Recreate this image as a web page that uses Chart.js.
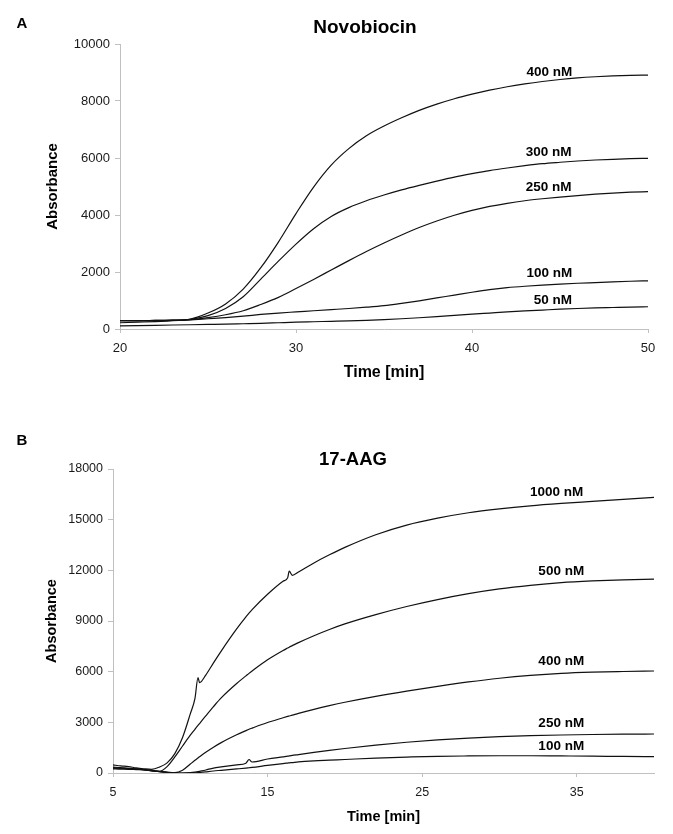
<!DOCTYPE html>
<html>
<head>
<meta charset="utf-8">
<title>Novobiocin / 17-AAG</title>
<script src="https://cdn.jsdelivr.net/npm/chart.js"></script>
<style>
  body { margin: 0; background: #fff; }
  .panel { position: absolute; left: 0; width: 673px; }
  #panelA { top: 0; height: 400px; }
  #panelB { top: 400px; height: 434px; }
</style>
</head>
<body>
<div class="panel" id="panelA"><canvas id="chartA"></canvas></div>
<div class="panel" id="panelB"><canvas id="chartB"></canvas></div>
<script>
// ---- panel A: Novobiocin ----
let timeA = [20, 21, 22, 23, 24, 25, 26, 27, 28, 29, 30, 31, 32, 33, 34, 35,
    36, 37, 38, 39, 40, 41, 42, 43, 44, 45, 46, 47, 48, 49, 50];
let nov400 = [290, 290, 300, 310, 350, 560, 880, 1400, 2150, 3050, 4050, 4980, 5750, 6330, 6780, 7120,
    7410, 7670, 7890, 8080, 8240, 8380, 8500, 8600, 8685, 8755, 8810, 8850, 8880, 8900, 8910];
let nov300 = [290, 290, 300, 310, 340, 470, 720, 1130, 1750, 2380, 2980, 3520, 3950, 4260, 4500, 4700,
    4880, 5040, 5190, 5330, 5450, 5560, 5650, 5730, 5800, 5850, 5895, 5930, 5955, 5975, 5990];
let nov250 = [290, 290, 290, 300, 330, 400, 500, 640, 860, 1110, 1420, 1740, 2070, 2400, 2720, 3020,
    3300, 3560, 3790, 3990, 4160, 4300, 4410, 4500, 4570, 4630, 4680, 4730, 4770, 4800, 4820];
let nov100 = [220, 240, 260, 290, 320, 360, 400, 450, 510, 560, 600, 640, 680, 720, 765, 820,
    900, 990, 1090, 1190, 1290, 1380, 1450, 1500, 1540, 1575, 1605, 1630, 1655, 1675, 1690];
let nov50 = [110, 120, 130, 140, 150, 160, 170, 185, 200, 220, 240, 255, 270, 285, 305, 330,
    360, 395, 435, 478, 520, 560, 600, 635, 665, 695, 720, 740, 755, 770, 780];
let namesA = ["400 nM", "300 nM", "250 nM", "100 nM", "50 nM"];
let nameTimeA = [44.4, 44.35, 44.35, 44.4, 44.6];
let nameValueA = [9010, 6190, 4990, 1950, 1020];

// ---- panel B: 17-AAG ----
let timeB = [5, 5.5, 6, 6.5, 7, 7.5, 8, 8.5, 9, 9.5, 10, 10.3, 10.5, 10.6, 11, 11.5, 12, 13,
    13.6, 13.8, 14, 15, 16, 16.3, 16.4, 16.6, 17, 18, 19, 20, 22, 24, 26, 28, 30, 32, 34, 36, 38, 40];
let aag1000 = [480, 420, 380, 300, 250, 220, 350, 600, 1150, 2100, 3500, 4400, 5650, 5350, 5800, 6520, 7220, 8530,
    9240, 9460, 9670, 10580, 11350, 11560, 11950, 11700, 11900, 12440, 12920, 13360, 14110, 14680, 15090, 15410,
    15640, 15820, 15960, 16080, 16200, 16320];
let aag500 = [350, 320, 280, 250, 200, 130, 100, 380, 950, 1600, 2240, 2590, 2820, 2930, 3380, 3930, 4450, 5300,
    5750, 5900, 6040, 6700, 7250, 7400, 7450, 7540, 7720, 8130, 8500, 8830, 9380, 9860, 10270, 10620,
    10900, 11110, 11270, 11370, 11440, 11480];
let aag400 = [300, 280, 260, 230, 200, 150, 80, 30, 20, 160, 530, 750, 890, 960, 1230, 1530, 1800, 2260,
    2510, 2590, 2660, 2990, 3270, 3350, 3375, 3425, 3530, 3770, 3990, 4190, 4540, 4850, 5130, 5390,
    5610, 5780, 5900, 5970, 6010, 6040];
let aag250 = [300, 280, 250, 230, 200, 150, 100, 50, 10, 0, 20, 50, 80, 100, 180, 290, 360, 480,
    580, 800, 650, 830, 960, 1000, 1010, 1040, 1090, 1220, 1340, 1450, 1650, 1820, 1960, 2070,
    2150, 2210, 2250, 2280, 2300, 2310];
let aag100 = [250, 230, 220, 200, 180, 130, 80, 40, 10, 0, 0, 10, 20, 30, 70, 120, 160, 240,
    290, 310, 330, 450, 560, 590, 600, 620, 660, 720, 760, 800, 880, 940, 990, 1010,
    1020, 1020, 1010, 1000, 980, 970];
let tickTimesB = [5, 15, 25, 35];
let namesB = ["1000 nM", "500 nM", "400 nM", "250 nM", "100 nM"];
let nameTimeB = [33.7, 34.0, 34.0, 34.0, 34.0];
let nameValueB = [16620, 11920, 6630, 2940, 1560];

const family = "'Liberation Sans', Arial, Helvetica, sans-serif";
Chart.defaults.font.family = family;

// panel letter, title and the "nM" labels next to the curves
const panelText = {
    id: "panelText",
    afterDatasetsDraw(chart, args, opts) {
        const ctx = chart.ctx;
        const xs = chart.scales.x, ys = chart.scales.y;
        ctx.save();
        ctx.fillStyle = "#000";
        ctx.textAlign = "center";
        ctx.textBaseline = "middle";
        ctx.font = "bold 15px " + family;
        ctx.fillText(opts.letter, opts.letterX, opts.letterY);
        ctx.font = "bold " + opts.titleSize + "px " + family;
        ctx.fillText(opts.title, opts.titleX, opts.titleY);
        ctx.font = "bold 13.5px " + family;
        for (let i = 0; i < opts.names.length; i++) {
            ctx.fillText(opts.names[i], xs.getPixelForValue(opts.nameTimes[i]), ys.getPixelForValue(opts.nameValues[i]));
        }
        ctx.restore();
    }
};

function lines(times, series) {
    return series.map(vals => ({
        data: vals.map((v, i) => ({ x: times[i], y: v })),
        borderColor: "#111",
        borderWidth: 1.2,
        pointRadius: 0,
        fill: false,
        cubicInterpolationMode: "monotone"
    }));
}

function axisGrid(len) {
    return { display: true, drawOnChartArea: false, drawTicks: true, tickLength: len, color: "#c0c0c0" };
}

// plain numbers, no thousands separator
const plain = v => String(v);

new Chart("chartA", {
    type: "line",
    data: { datasets: lines(timeA, [nov400, nov300, nov250, nov100, nov50]) },
    plugins: [panelText],
    options: {
        responsive: true,
        maintainAspectRatio: false,
        animation: false,
        events: [],
        layout: { padding: { top: 44, right: 25, left: 0, bottom: 0 } },
        scales: {
            x: {
                type: "linear", min: 20, max: 50,
                ticks: { stepSize: 10, color: "#1a1a1a", font: { size: 13 }, padding: 8, maxRotation: 0, callback: plain },
                grid: axisGrid(4),
                border: { color: "#c0c0c0" },
                title: { display: true, text: "Time [min]", color: "#000",
                    font: { size: 16, weight: "bold" }, padding: { top: 0, bottom: 18 } },
                afterFit(s) { s.height = 71; }
            },
            y: {
                min: 0, max: 10000,
                ticks: { stepSize: 2000, color: "#1a1a1a", font: { size: 13 }, padding: 5, callback: plain },
                grid: axisGrid(5),
                border: { color: "#c0c0c0" },
                title: { display: true, text: "Absorbance", color: "#000",
                    font: { size: 15, weight: "bold" }, padding: { top: 44, bottom: 0 } },
                afterFit(s) { s.width = 120; }
            }
        },
        plugins: {
            legend: { display: false },
            tooltip: { enabled: false },
            panelText: {
                letter: "A", letterX: 22, letterY: 24,
                title: "Novobiocin", titleSize: 19, titleX: 365, titleY: 28,
                names: namesA, nameTimes: nameTimeA, nameValues: nameValueA
            }
        }
    }
});

new Chart("chartB", {
    type: "line",
    data: { datasets: lines(timeB, [aag1000, aag500, aag400, aag250, aag100]) },
    plugins: [panelText],
    options: {
        responsive: true,
        maintainAspectRatio: false,
        animation: false,
        events: [],
        layout: { padding: { top: 69, right: 19, left: 0, bottom: 0 } },
        scales: {
            x: {
                type: "linear", min: 5, max: 40,
                afterBuildTicks(s) { s.ticks = tickTimesB.map(v => ({ value: v })); },
                ticks: { color: "#1a1a1a", font: { size: 12.5 }, padding: 8.5, maxRotation: 0, callback: plain },
                grid: axisGrid(4),
                border: { color: "#c0c0c0" },
                title: { display: true, text: "Time [min]", color: "#000",
                    font: { size: 14.5, weight: "bold" }, padding: { top: 0, bottom: 8.3 } },
                afterFit(s) { s.height = 61; }
            },
            y: {
                min: 0, max: 18000,
                ticks: { stepSize: 3000, color: "#1a1a1a", font: { size: 12.5 }, padding: 5, callback: plain },
                grid: axisGrid(5),
                border: { color: "#c0c0c0" },
                title: { display: true, text: "Absorbance", color: "#000",
                    font: { size: 14.5, weight: "bold" }, padding: { top: 43, bottom: 0 } },
                afterFit(s) { s.width = 113; }
            }
        },
        plugins: {
            legend: { display: false },
            tooltip: { enabled: false },
            panelText: {
                letter: "B", letterX: 22, letterY: 41,
                title: "17-AAG", titleSize: 18.5, titleX: 353, titleY: 60,
                names: namesB, nameTimes: nameTimeB, nameValues: nameValueB
            }
        }
    }
});
</script>
</body>
</html>
